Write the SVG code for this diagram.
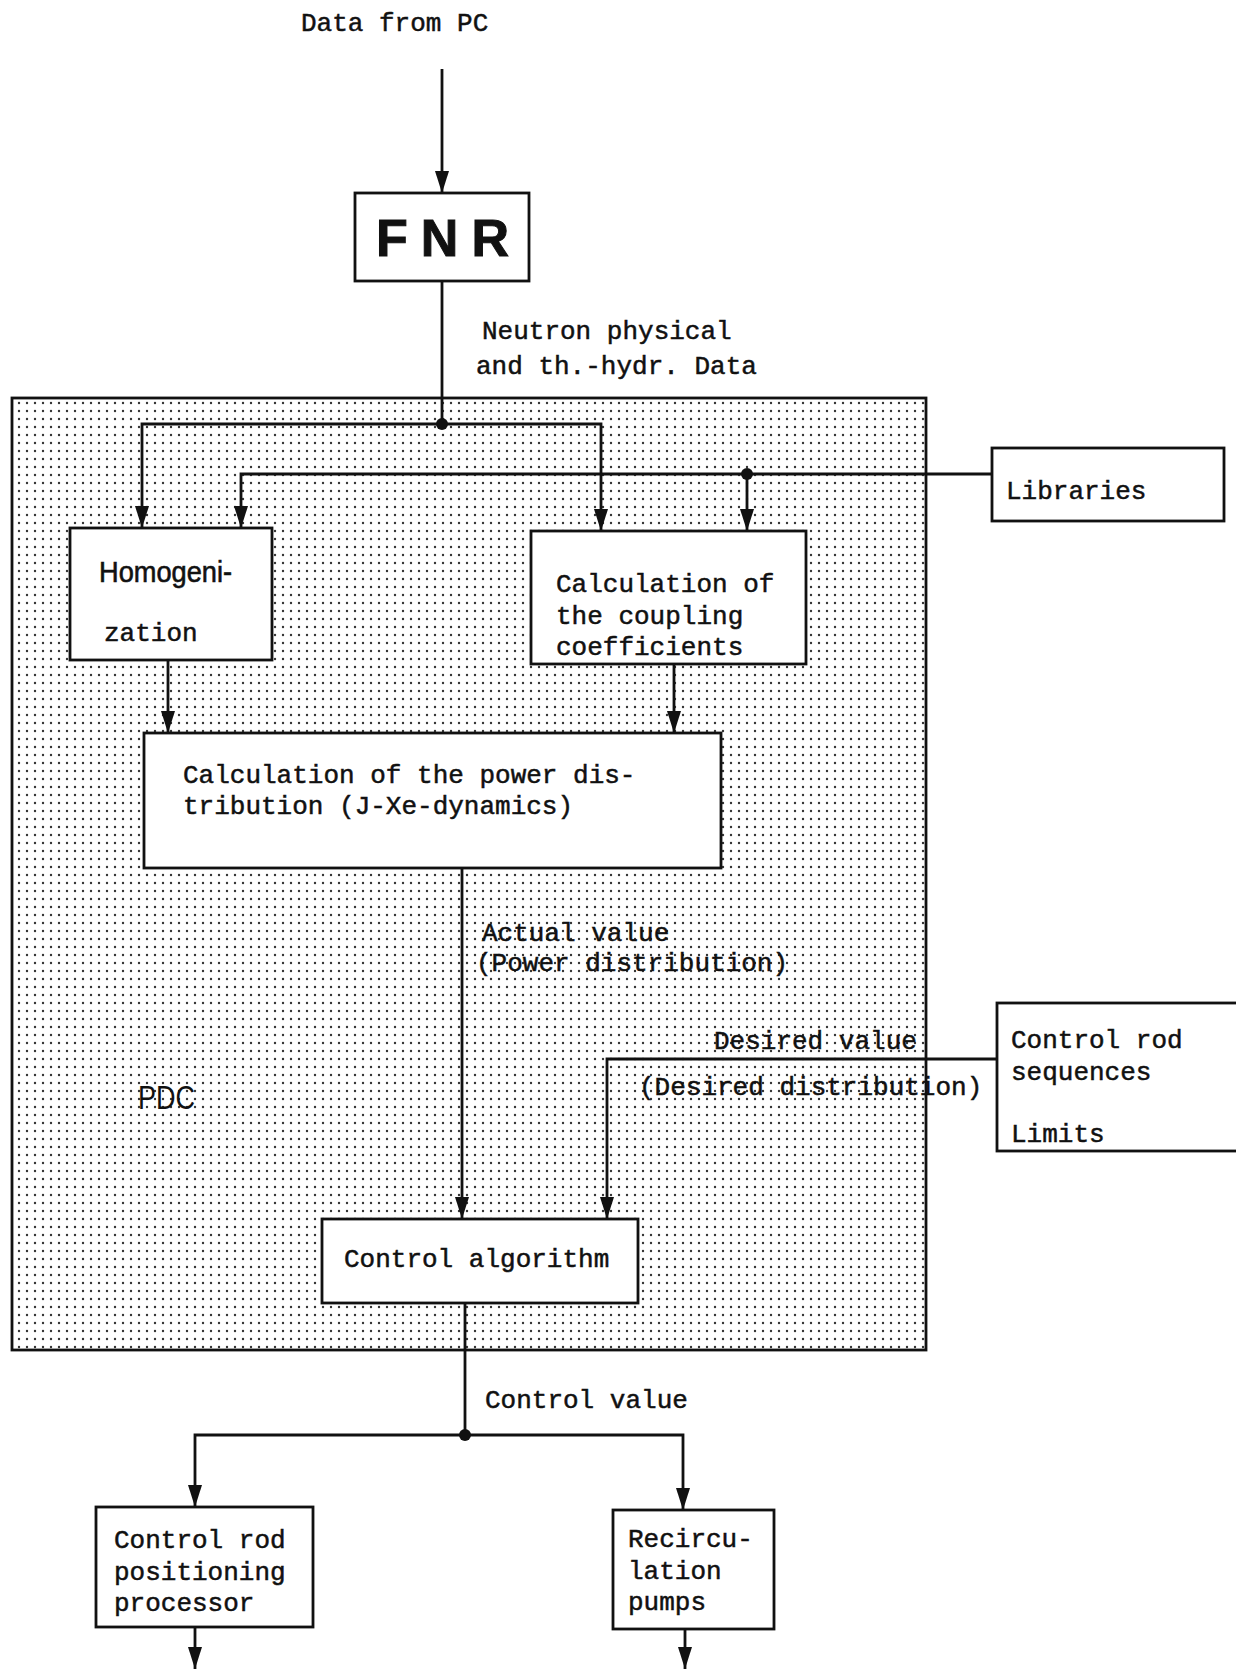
<svg xmlns="http://www.w3.org/2000/svg" width="1236" height="1670" viewBox="0 0 1236 1670">
<style>
.t{font-family:"Liberation Mono","DejaVu Sans Mono",monospace;font-size:26px;fill:#111;stroke:#111;stroke-width:0.5}
.s{font-family:"Liberation Sans",Arial,sans-serif;fill:#111}
.box{fill:#fff;stroke:#111;stroke-width:2.8}
.ln{fill:none;stroke:#111;stroke-width:2.8}
.ar{fill:none;stroke:#111;stroke-width:2.8;marker-end:url(#arr)}
.dot{fill:#111}
</style>
<defs>
<marker id="arr" viewBox="0 0 22 14" markerWidth="22" markerHeight="14" refX="22" refY="7" orient="auto" markerUnits="userSpaceOnUse">
<path d="M0,0 L22,7 L0,14 Z" fill="#111"/>
</marker>
<pattern id="dots" width="8" height="8" patternUnits="userSpaceOnUse">
<circle cx="3" cy="3" r="1.2" fill="#333"/>
</pattern>
</defs>
<rect width="1236" height="1670" fill="#fff"/>

<g id="pdc">
<rect x="12" y="398" width="914" height="952" fill="url(#dots)" stroke="#111" stroke-width="2.8"/>
<text class="s" x="138" y="1109" font-size="33" textLength="57" lengthAdjust="spacingAndGlyphs">PDC</text>
</g>

<g id="connectors">
<line class="ar" x1="442" y1="69" x2="442" y2="193"/>
<line class="ln" x1="442" y1="281" x2="442" y2="424"/>
<polyline class="ar" points="442,424 142,424 142,528"/>
<polyline class="ar" points="442,424 601,424 601,531"/>
<polyline class="ar" points="992,474 241,474 241,528"/>
<line class="ar" x1="747" y1="474" x2="747" y2="531"/>
<line class="ar" x1="168" y1="660" x2="168" y2="733"/>
<line class="ar" x1="674" y1="664" x2="674" y2="733"/>
<line class="ar" x1="462" y1="868" x2="462" y2="1219"/>
<polyline class="ar" points="997,1059 607,1059 607,1219"/>
<line class="ln" x1="465" y1="1303" x2="465" y2="1435"/>
<polyline class="ar" points="465,1435 195,1435 195,1507"/>
<polyline class="ar" points="465,1435 683,1435 683,1510"/>
<line class="ar" x1="195" y1="1627" x2="195" y2="1669"/>
<line class="ar" x1="685" y1="1629" x2="685" y2="1669"/>
<circle class="dot" cx="442" cy="424" r="6"/>
<circle class="dot" cx="747" cy="474" r="6"/>
<circle class="dot" cx="465" cy="1435" r="6"/>
<text class="t" x="301" y="31">Data from PC</text>
<text class="t" x="482" y="339">Neutron physical</text>
<text class="t" x="476" y="374">and th.-hydr. Data</text>
<text class="t" x="482" y="941">Actual value</text>
<text class="t" x="476" y="971">(Power distribution)</text>
<text class="t" x="714" y="1049">Desired value</text>
<text class="t" x="639" y="1095">(Desired distribution)</text>
<text class="t" x="485" y="1408">Control value</text>
</g>

<g id="fnr">
<rect class="box" x="355" y="193" width="174" height="88"/>
<text class="s" x="449" y="256" font-size="52" font-weight="bold" letter-spacing="13" text-anchor="middle" stroke="#111" stroke-width="1">FNR</text>
</g>

<g id="libraries">
<rect class="box" x="992" y="448" width="232" height="73"/>
<text class="t" x="1006" y="499">Libraries</text>
</g>

<g id="homogenization">
<rect class="box" x="70" y="528" width="202" height="132"/>
<text class="s" x="99" y="582" font-size="29" textLength="133" lengthAdjust="spacingAndGlyphs" stroke="#111" stroke-width="0.6">Homogeni-</text>
<text class="t" x="104" y="641">zation</text>
</g>

<g id="coupling">
<rect class="box" x="531" y="531" width="275" height="133"/>
<text class="t" x="556" y="592">Calculation of</text>
<text class="t" x="556" y="624">the coupling</text>
<text class="t" x="556" y="655">coefficients</text>
</g>

<g id="power">
<rect class="box" x="144" y="733" width="577" height="135"/>
<text class="t" x="183" y="783">Calculation of the power dis-</text>
<text class="t" x="183" y="814">tribution (J-Xe-dynamics)</text>
</g>

<g id="control-rod-sequences">
<rect class="box" x="997" y="1003" width="245" height="148"/>
<text class="t" x="1011" y="1048">Control rod</text>
<text class="t" x="1011" y="1080">sequences</text>
<text class="t" x="1011" y="1142">Limits</text>
</g>

<g id="control-algorithm">
<rect class="box" x="322" y="1219" width="316" height="84"/>
<text class="t" x="344" y="1267">Control algorithm</text>
</g>

<g id="control-rod-positioning">
<rect class="box" x="96" y="1507" width="217" height="120"/>
<text class="t" x="114" y="1548">Control rod</text>
<text class="t" x="114" y="1580">positioning</text>
<text class="t" x="114" y="1611">processor</text>
</g>

<g id="recirculation">
<rect class="box" x="613" y="1510" width="161" height="119"/>
<text class="t" x="628" y="1547">Recircu-</text>
<text class="t" x="628" y="1579">lation</text>
<text class="t" x="628" y="1610">pumps</text>
</g>
</svg>
